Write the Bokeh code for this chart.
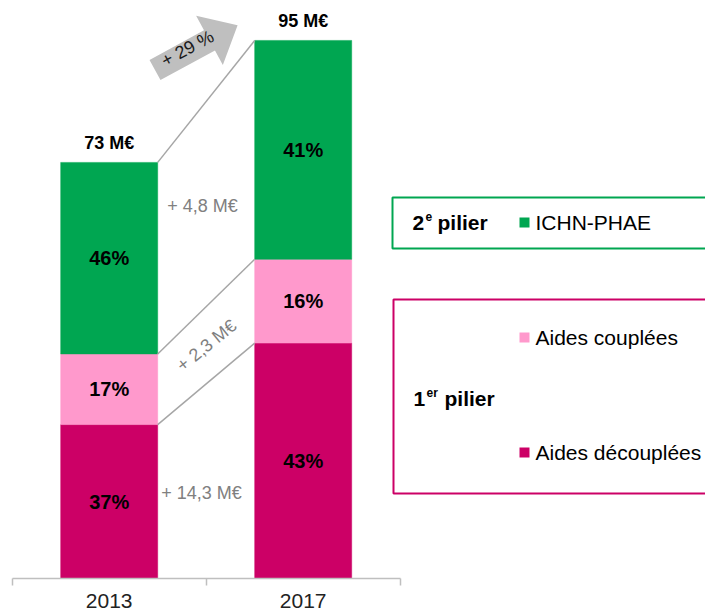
import numpy as np
from bokeh.plotting import figure
from bokeh.models import ColumnDataSource, Range1d, FixedTicker
from bokeh.core.properties import value
from bokeh.embed import file_html
from bokeh.resources import INLINE

# ---------------- data ----------------
years = ["2013", "2017"]
aides_decouplees = [27.0, 41.3]   # M€
aides_couplees = [12.4, 14.7]     # M€
ichn_phae = [33.6, 38.4]          # M€
pct_decouplees = ["37%", "43%"]
pct_couplees = ["17%", "16%"]
pct_ichn = ["46%", "41%"]
total_labels = ["73 M€", "95 M€"]
increase_labels = ["+ 14,3 M€", "+ 2,3 M€", "+ 4,8 M€"]
growth_label = "+ 29 %"
legend_series = ["ICHN-PHAE", "Aides couplées", "Aides découplées"]

# ---------------- style / layout ----------------
GREEN = "#00A651"
PINK = "#FF99CC"
MAGENTA = "#CC0066"
GREY_LINE = "#A6A6A6"
GREY_TEXT = "#808080"
ARROW = "#BFBFBF"
FONT = value("Liberation Sans")

W, H = 705, 610
PX_CAT = 194.0           # px per category slot
X0 = 11.7                # px of x = 0
Y0 = 578                 # px of y = 0
PX_Y = 5.70              # px per M€


def sx(px):
    return (px - X0) / PX_CAT


def sy(py):
    return (Y0 - py) / PX_Y


p = figure(width=W, height=H, output_backend="svg", toolbar_location=None,
           x_range=Range1d(sx(0), sx(W)), y_range=Range1d(0, sy(0)),
           y_axis_location=None, min_border_left=0, min_border_right=0,
           min_border_top=0, min_border_bottom=int(H - Y0))
p.outline_line_color = None
p.xgrid.visible = False
p.ygrid.visible = False
p.background_fill_color = "white"

xs = np.arange(len(years)) + 0.5
bar_w = 0.5

ax = p.xaxis[0]
ax.ticker = FixedTicker(ticks=list(xs), minor_ticks=list(range(len(years) + 1)))
ax.major_label_overrides = {float(x): y for x, y in zip(xs, years)}
ax.major_tick_out = 0
ax.major_tick_in = 0
ax.major_tick_line_color = None
ax.minor_tick_out = 7
ax.minor_tick_in = 0
ax.minor_tick_line_color = "#BFBFBF"
ax.axis_line_color = "#BFBFBF"
ax.axis_line_width = 1.5
ax.minor_tick_line_width = 1.5
ax.bounds = (0, len(years))
ax.major_label_text_font = "Liberation Sans"
ax.major_label_text_font_size = "21px"
ax.major_label_text_color = "#222222"
ax.major_label_standoff = 8

src = ColumnDataSource(dict(x=xs, dec=aides_decouplees, coup=aides_couplees, ichn=ichn_phae))
p.vbar_stack(["dec", "coup", "ichn"], x="x", width=bar_w, source=src,
             color=[MAGENTA, PINK, GREEN], line_width=0.5)

dec = np.array(aides_decouplees)
coup = np.array(aides_couplees)
ichn = np.array(ichn_phae)
c1 = dec
c2 = dec + coup
c3 = dec + coup + ichn

# connector lines between bars
tops0 = [c1[0], c2[0], c3[0]]
tops1 = [c1[1], c2[1], c3[1]]
p.segment(x0=[xs[0] + bar_w / 2] * 3, y0=tops0, x1=[xs[1] - bar_w / 2] * 3, y1=tops1,
          line_color=GREY_LINE, line_width=1.5)

# percentage labels
lab_kw = dict(text_font=FONT, text_font_size="20px", text_font_style="bold",
              text_align="center", text_baseline="middle", text_color="#000000")
p.text(x=xs, y=dec / 2, text=pct_decouplees, **lab_kw)
p.text(x=xs, y=c1 + coup / 2, text=pct_couplees, **lab_kw)
p.text(x=xs, y=c2 + ichn / 2, text=pct_ichn, **lab_kw)

# totals
p.text(x=xs, y=c3, text=total_labels, y_offset=-19, text_font=FONT, text_font_size="18px",
       text_font_style="bold", text_align="center", text_baseline="middle", text_color="#000000")

# increase labels
inc_kw = dict(text_font=FONT, text_font_size="18px", text_color=GREY_TEXT,
              text_align="center", text_baseline="middle")
p.text(x=[sx(201)], y=[sy(492)], text=[increase_labels[0]], **inc_kw)
p.text(x=[sx(206)], y=[sy(345)], text=[increase_labels[1]], angle=np.deg2rad(39), **inc_kw)
p.text(x=[sx(202)], y=[sy(205)], text=[increase_labels[2]], **inc_kw)

# growth arrow
th = np.deg2rad(28.5)
u = np.array([np.cos(th), -np.sin(th)])
n = np.array([np.sin(th), np.cos(th)])
T = np.array([154.5, 69.5])
w, Wh, Ls, Lh = 11.5, 28.0, 62.0, 32.0
pts = [T - w * n, T - w * n + Ls * u, T - Wh * n + Ls * u, T + (Ls + Lh) * u,
       T + Wh * n + Ls * u, T + w * n + Ls * u, T + w * n]
p.patch(x=[sx(q[0]) for q in pts], y=[sy(q[1]) for q in pts],
        fill_color=ARROW, line_color=None)
p.text(x=[sx(187)], y=[sy(48)], text=[growth_label], angle=th, text_font=FONT,
       text_font_size="18px", text_color="#1a1a1a", text_align="center", text_baseline="middle")

# legend boxes
p.quad(left=[sx(392)], right=[sx(760)], top=[sy(197)], bottom=[sy(248)],
       fill_color=None, line_color=GREEN, line_width=2)
p.quad(left=[sx(393)], right=[sx(760)], top=[sy(299)], bottom=[sy(493)],
       fill_color=None, line_color=MAGENTA, line_width=2)

bold = dict(text_font=FONT, text_font_style="bold", text_baseline="middle",
            text_align="left", text_color="#000000")
# 2e pilier
p.text(x=[sx(412)], y=[sy(222)], text=["2"], text_font_size="21px", **bold)
p.text(x=[sx(425)], y=[sy(216)], text=["e"], text_font_size="12px", **bold)
p.text(x=[sx(437)], y=[sy(222)], text=["pilier"], text_font_size="21px", **bold)
# 1er pilier
p.text(x=[sx(413)], y=[sy(398)], text=["1"], text_font_size="21px", **bold)
p.text(x=[sx(426)], y=[sy(392)], text=["er"], text_font_size="12px", **bold)
p.text(x=[sx(444)], y=[sy(398)], text=["pilier"], text_font_size="21px", **bold)

# legend markers and labels
leg_y = [sy(222), sy(337), sy(452)]
p.scatter(x=[sx(524)] * 3, y=leg_y, marker="square", size=10,
          fill_color=[GREEN, PINK, MAGENTA], line_color=None)
p.text(x=[sx(535)] * 3, y=leg_y, text=legend_series, text_font=FONT, text_font_size="21px",
       text_baseline="middle", text_align="left", text_color="#000000")

open("out.html", "w").write(file_html(p, INLINE))
